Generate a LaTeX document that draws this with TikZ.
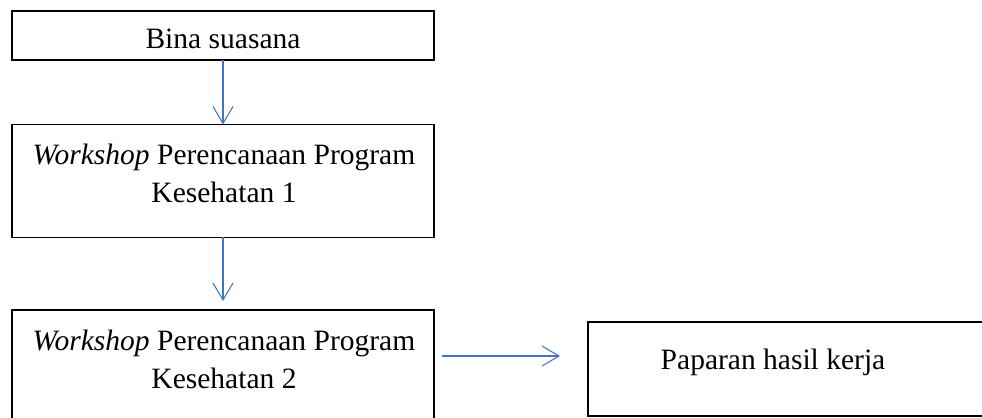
\documentclass[tikz,border=0pt]{standalone}
\usepackage{fontspec}
\setmainfont{Liberation Serif}
\usetikzlibrary{positioning,arrows.meta}
\definecolor{wordblue}{RGB}{68,114,196}
\tikzset{
  box/.style={draw, line width=0.7pt, inner sep=0pt, outer sep=0pt, minimum width=8.44cm},
  txt/.style={inner sep=0pt, align=center},
  link/.style={draw=wordblue, line width=0.6pt, -{Straight Barb[length=0.34cm,width=0.4cm]}}
}
\begin{document}
\begin{tikzpicture}[x=0.02cm,y=-0.02cm,font=\fontsize{16.8}{21.2}\selectfont]
\clip (0,0) rectangle (982,418);
% boxes
\node[box, minimum height=0.98cm] (bina) at (223,35.5) {};
\node[box, minimum height=2.26cm] (ws1) at (223,181) {};
\node[box, minimum height=2.28cm] (ws2) at (223,367) {};
\node[box, minimum width=8cm, minimum height=1.88cm] (paparan) at (788,369) {};
% texts
\node[txt, anchor=base] (binatxt) at (223,49) {Bina suasana};
\node[txt, anchor=north] (ws1txt) at (224,144) {\textit{Workshop} Perencanaan Program\\Kesehatan 1};
\node[txt, anchor=north] (ws2txt) at (224,330) {\textit{Workshop} Perencanaan Program\\Kesehatan 2};
\node[txt, anchor=base] (paparantxt) at (773,369) {Paparan hasil kerja};
% arrows
\draw[link] (bina.south) -- (ws1.north);
\draw[link, shorten >=0.18cm] (ws1.south) -- (ws2.north);
\draw[link, shorten <=0.16cm, shorten >=0.56cm] ([yshift=0.22cm]ws2.east) -- ([yshift=0.22cm]ws2.east -| paparan.west);
\end{tikzpicture}
\end{document}
